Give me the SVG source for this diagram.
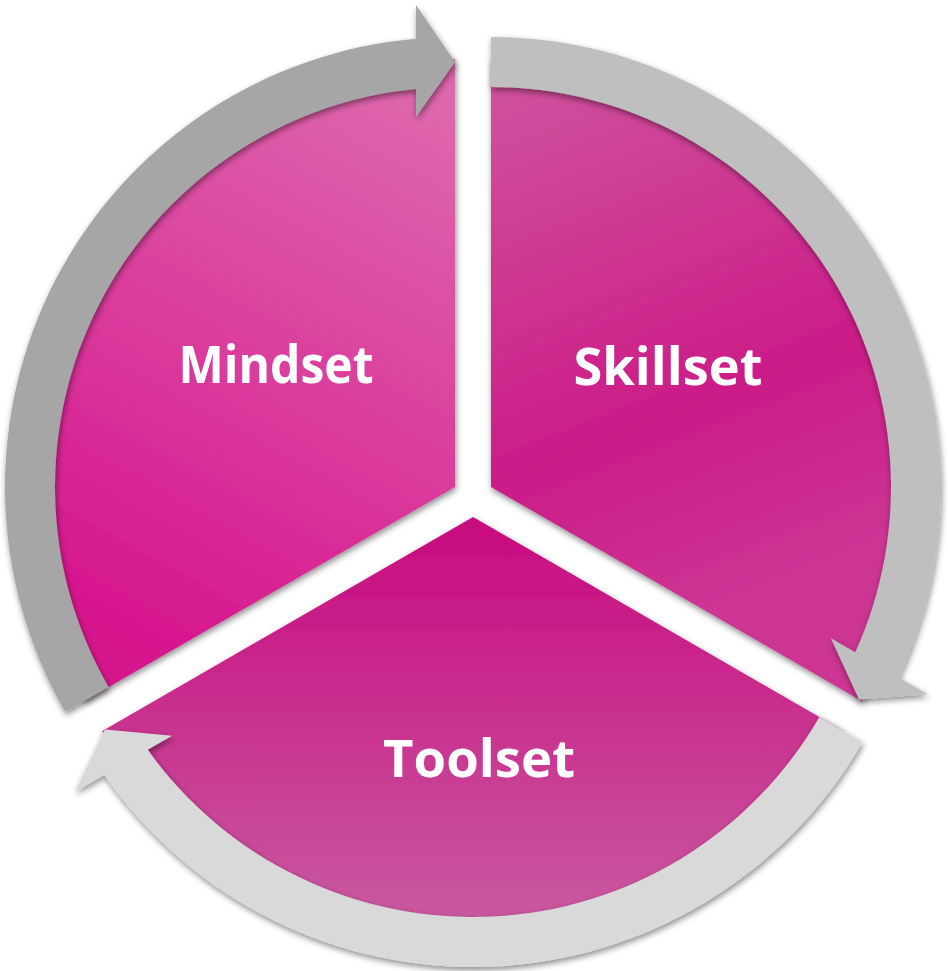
<svg xmlns="http://www.w3.org/2000/svg" xmlns:xlink="http://www.w3.org/1999/xlink" width="948" height="971" viewBox="0 0 948 971">
  <defs>
    <style>
      .lbl { font-family: "Open Sans", "Liberation Sans", sans-serif; font-weight: 700; font-size: 52px; fill: #ffffff; text-anchor: middle; }
    </style>
    <filter id="sh" x="-10%" y="-10%" width="120%" height="120%">
      <feDropShadow dx="1" dy="3" stdDeviation="3" flood-color="#000000" flood-opacity="0.45"/>
    </filter>
    <linearGradient id="gMind" gradientUnits="userSpaceOnUse" x1="130" y1="660" x2="430" y2="110">
      <stop offset="0" stop-color="#d6128d"/>
      <stop offset="1" stop-color="#de66ac"/>
    </linearGradient>
    <linearGradient id="gSkill" gradientUnits="userSpaceOnUse" x1="520" y1="90" x2="720" y2="600">
      <stop offset="0" stop-color="#d0509c"/>
      <stop offset="0.65" stop-color="#cb1c88"/>
      <stop offset="1" stop-color="#cc3493"/>
    </linearGradient>
    <linearGradient id="gTool" gradientUnits="userSpaceOnUse" x1="473" y1="520" x2="473" y2="930">
      <stop offset="0" stop-color="#c80a80"/>
      <stop offset="1" stop-color="#c95ba0"/>
    </linearGradient>
    <path id="arrowShape" d="M -225,-389.71 A 450 450 0 0 1 448.31,-39 L 482,-39 L 425,0 L 370,-39 L 398.10,-39 A 400 400 0 0 0 -200,-346.41 Z"/>
  </defs>

  <g id="node-mindset">
    <path d="M455,487 L84.34,701 A428,428 0 0 1 455,59 Z" fill="url(#gMind)" filter="url(#sh)"/>
    <text class="lbl" x="276" y="383" textLength="195" lengthAdjust="spacingAndGlyphs">Mindset</text>
  </g>
  <g id="node-skillset">
    <path d="M491,487 L491,59 A428,428 0 0 1 861.66,701 Z" fill="url(#gSkill)" filter="url(#sh)"/>
    <text class="lbl" x="668" y="385" textLength="189" lengthAdjust="spacingAndGlyphs">Skillset</text>
  </g>
  <g id="node-toolset">
    <path d="M473,517 L843.66,731 A428,428 0 0 1 102.34,731 Z" fill="url(#gTool)" filter="url(#sh)"/>
    <text class="lbl" x="479" y="777" textLength="192" lengthAdjust="spacingAndGlyphs">Toolset</text>
  </g>

  <g id="connectors">
    <g filter="url(#sh)">
      <use xlink:href="#arrowShape" href="#arrowShape" transform="translate(455,487) rotate(-90)" fill="#a6a6a6"/>
    </g>
    <g filter="url(#sh)">
      <use xlink:href="#arrowShape" href="#arrowShape" transform="translate(491,487) rotate(30)" fill="#bfbfbf"/>
    </g>
    <g filter="url(#sh)">
      <use xlink:href="#arrowShape" href="#arrowShape" transform="translate(473,517) rotate(150)" fill="#d9d9d9"/>
    </g>
  </g>
</svg>
